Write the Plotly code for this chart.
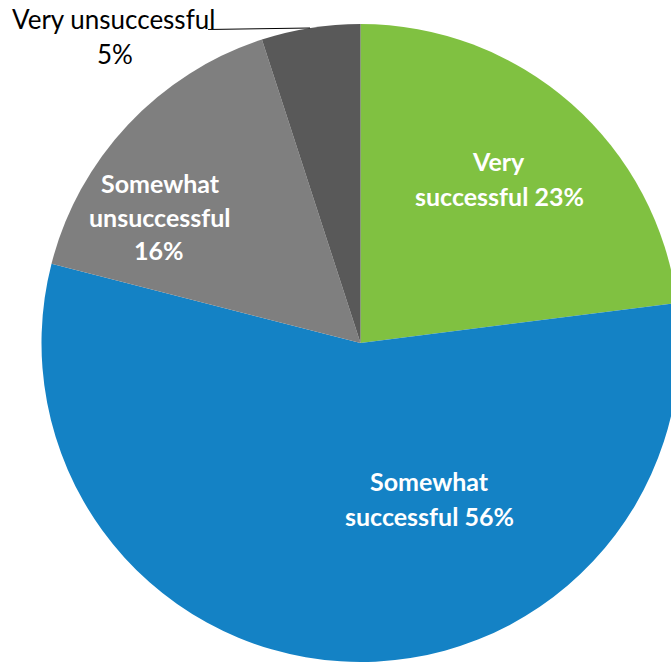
import plotly.graph_objects as go

# ---- data ----
categories = ["Very successful", "Somewhat successful", "Somewhat unsuccessful", "Very unsuccessful"]
values = [23, 56, 16, 5]
colors = ["#80C141", "#1482C5", "#7F7F7F", "#595959"]

W, H = 690, 663

def px(x):
    return x / W

def py(y):
    return 1 - y / H

# pie geometry in pixels (center and radius)
cx, cy, r = 360.5, 343, 319

fig = go.Figure()
fig.add_trace(go.Pie(
    labels=categories,
    values=values,
    sort=False,
    direction="clockwise",
    rotation=0,
    marker=dict(colors=colors, line=dict(width=0)),
    textinfo="none",
    hoverinfo="label+percent",
    showlegend=False,
    domain=dict(x=[px(cx - r), px(cx + r)], y=[py(cy + r), py(cy - r)]),
))

bold = dict(family="Lato", size=25, color="white")
black = dict(family="Lato", size=26, color="black")
lines = [
    ("<b>Very</b>", 498, 161, bold),
    ("<b>successful 23%</b>", 499, 196, bold),
    ("<b>Somewhat</b>", 160, 183, bold),
    ("<b>unsuccessful</b>", 160, 217, bold),
    ("<b>16%</b>", 159, 250, bold),
    ("<b>Somewhat</b>", 429, 481, bold),
    ("<b>successful 56%</b>", 429, 516, bold),
    ("Very unsuccessful", 113.5, 19, black),
    ("5%", 115, 54, black),
]
for text, x, y, font in lines:
    fig.add_annotation(text=text, x=px(x), y=py(y), xref="paper", yref="paper",
                       xanchor="center", yanchor="middle", showarrow=False, font=font)

# leader line for the small slice
fig.add_shape(type="line", xref="paper", yref="paper",
              x0=px(208), y0=py(29.5), x1=px(310), y1=py(28),
              line=dict(color="black", width=1))

fig.update_layout(
    width=W, height=H,
    margin=dict(l=0, r=0, t=0, b=0),
    paper_bgcolor="white",
    plot_bgcolor="white",
)

fig.write_html("out.html", config=dict(displayModeBar=False),
               post_script="document.documentElement.style.overflow='hidden';"
                           "document.body.style.overflow='hidden';"
                           "document.body.style.margin='0';")
